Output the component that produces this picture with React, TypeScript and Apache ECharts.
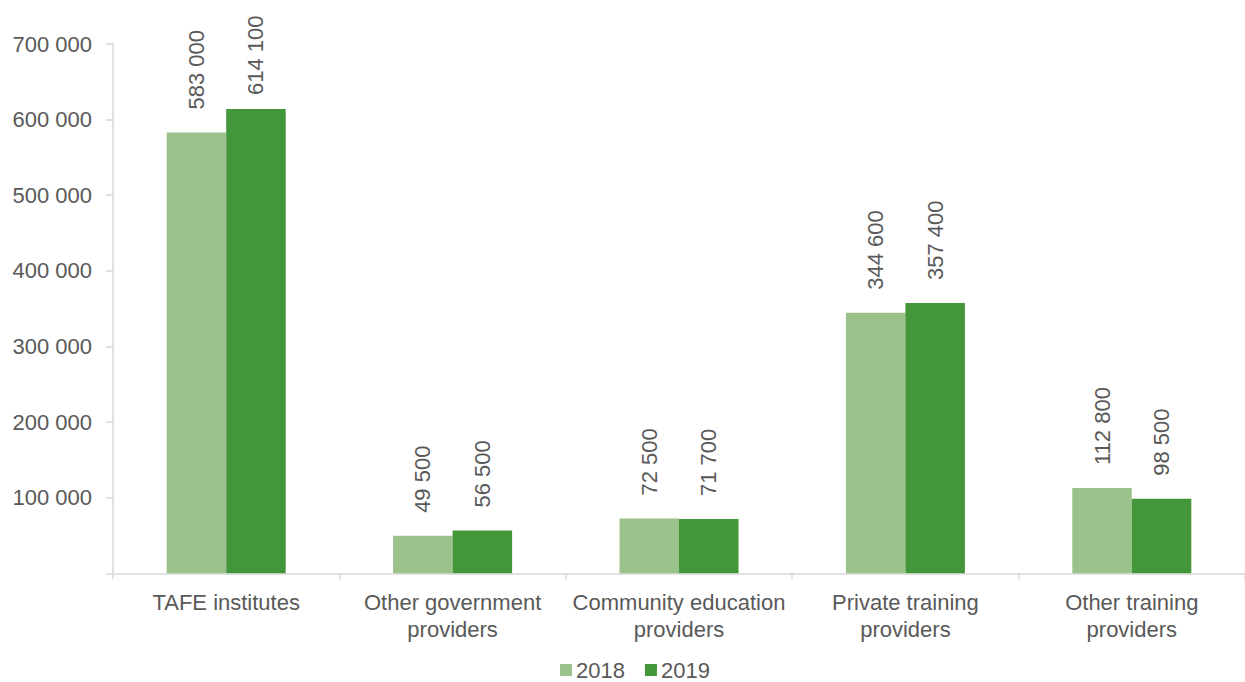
import React, { useEffect, useRef } from "react";
import * as echarts from "echarts";

const categories = [
  "TAFE institutes",
  "Other government\nproviders",
  "Community education\nproviders",
  "Private training\nproviders",
  "Other training\nproviders",
];
const values2018 = [583000, 49500, 72500, 344600, 112800];
const values2019 = [614100, 56500, 71700, 357400, 98500];
const seriesNames = ["2018", "2019"];
const colors = ["#9BC28B", "#43963A"];

const fmt = (v: number) =>
  String(Math.round(v)).replace(/\B(?=(\d{3})+(?!\d))/g, " ");

const FONT = "Liberation Sans, Arial, sans-serif";
const TEXT = "#595959";
const AXIS = "#d9d9d9";

export default function App() {
  const ref = useRef<HTMLDivElement>(null);
  useEffect(() => {
    if (!ref.current) return;
    const chart = echarts.init(ref.current, null, { renderer: "svg" });
    const mkLabel = (distance: number) => ({
      show: true,
      position: "top",
      rotate: 90,
      align: "left",
      verticalAlign: "middle",
      distance,
      color: TEXT,
      fontSize: 22,
      fontFamily: FONT,
      formatter: (p: any) => fmt(p.value),
    });
    const mkData = (vals: number[]) =>
      vals.map((v) => (v > 600000 ? { value: v, label: mkLabel(14) } : v));
    chart.setOption({
      animation: false,
      textStyle: { fontFamily: FONT },
      grid: { left: 113, top: 44, width: 1134, height: 529.3, containLabel: false },
      legend: {
        data: seriesNames,
        top: 659,
        left: 560,
        padding: 0,
        itemWidth: 12,
        itemHeight: 12,
        itemGap: 20,
        icon: "rect",
        textStyle: {
          color: TEXT,
          fontSize: 22,
          fontFamily: FONT,
          padding: [0, 0, 0, -1],
        },
      },
      xAxis: {
        type: "category",
        data: categories,
        axisLine: { show: true, lineStyle: { color: AXIS, width: 1.5 } },
        axisTick: { show: true, length: 6, lineStyle: { color: AXIS, width: 1.5 } },
        axisLabel: {
          color: TEXT,
          fontSize: 22,
          fontFamily: FONT,
          margin: 16,
          lineHeight: 27,
          interval: 0,
        },
      },
      yAxis: {
        type: "value",
        min: 0,
        max: 700000,
        interval: 100000,
        splitLine: { show: false },
        axisLine: { show: true, lineStyle: { color: AXIS, width: 1.5 } },
        axisTick: { show: true, length: 7, lineStyle: { color: AXIS, width: 1.5 } },
        axisLabel: {
          color: TEXT,
          fontSize: 22,
          fontFamily: FONT,
          margin: 21,
          formatter: (v: number) => (v === 0 ? "" : fmt(v)),
        },
      },
      series: [
        {
          name: seriesNames[0],
          type: "bar",
          data: mkData(values2018),
          barWidth: 59.5,
          barGap: "0%",
          itemStyle: { color: colors[0] },
          label: mkLabel(23),
        },
        {
          name: seriesNames[1],
          type: "bar",
          data: mkData(values2019),
          barWidth: 59.5,
          barGap: "0%",
          itemStyle: { color: colors[1] },
          label: mkLabel(23),
        },
      ],
    });
    return () => chart.dispose();
  }, []);
  return (
    <div
      ref={ref}
      style={{ position: "fixed", left: 0, top: 0, width: 1245, height: 682, background: "#fff" }}
    />
  );
}
